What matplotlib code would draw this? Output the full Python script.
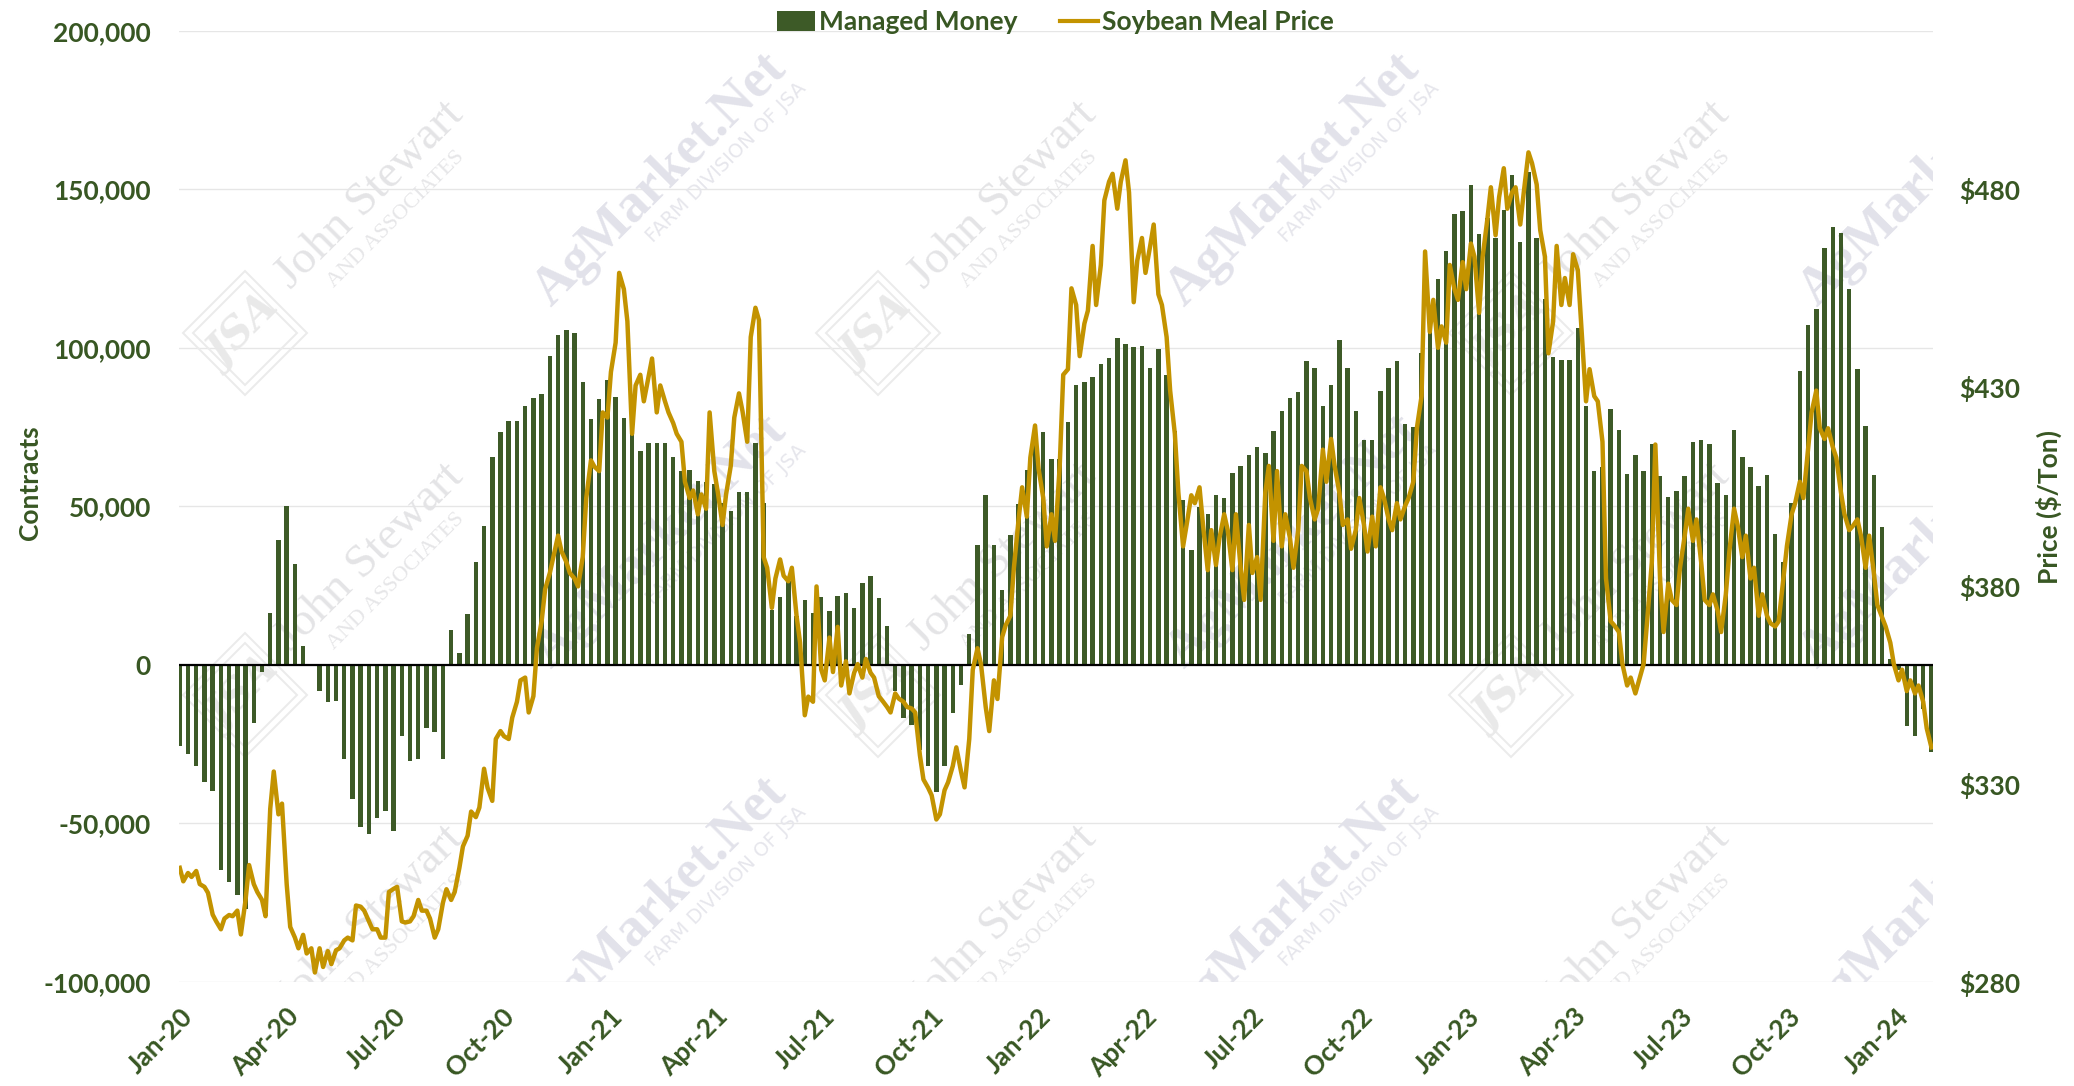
import numpy as np
import pandas as pd
import matplotlib
matplotlib.use('Agg')
import matplotlib.pyplot as plt
import matplotlib.dates as mdates
from matplotlib.patches import Patch, Polygon
from matplotlib.lines import Line2D
from matplotlib.ticker import FuncFormatter

plt.rcParams['font.family'] = ['Lato', 'DejaVu Sans']
plt.rcParams['font.weight'] = 'bold'

# managed money net position (contracts), weekly COT Tuesdays from 2020-01-07
managed_money = [
    -25500, -28000, -31800, -36800, -39700, -64700, -68400, -72600, -77000, -18200,
    -2200, 16400, 39500, 50200, 31900, 5900, -500, -8100, -11800, -11500,
    -29600, -42200, -51200, -53200, -48300, -46100, -52500, -22300, -30400, -29600,
    -19900, -21100, -29600, 11000, 3700, 16000, 32400, 43900, 65500, 73500,
    77000, 77000, 81700, 84300, 85300, 97500, 104000, 105600, 104700, 89300,
    77500, 83800, 89700, 84600, 78000, 74700, 67600, 70000, 70000, 70000,
    65700, 61000, 61500, 58000, 57800, 57000, 51000, 48500, 54400, 54400,
    70000, 51000, 17200, 21500, 26500, 15500, 20600, 16400, 21500, 16900,
    21800, 22600, 18000, 25700, 27900, 21000, 12200, -8100, -16600, -19100,
    -26700, -31800, -40200, -31800, -15200, -6400, 9600, 37800, 53500, 37800,
    23600, 40900, 50700, 61500, 70400, 73300, 64900, 64900, 76700, 88200,
    89300, 90700, 94900, 96900, 103000, 101300, 100300, 100700, 93600, 99700,
    91500, 73800, 51900, 36100, 49700, 47600, 53500, 52700, 60600, 62800,
    66200, 68600, 66900, 73800, 80100, 84300, 86100, 95800, 93600, 81700,
    88200, 102500, 93600, 80100, 71000, 71000, 86500, 93700, 95800, 76000,
    75000, 98300, 108400, 121600, 130400, 142200, 143000, 151300, 135800, 140900,
    134600, 143600, 154400, 133400, 155400, 134600, 115500, 97000, 96100, 96100,
    106200, 81700, 61100, 62500, 80600, 74100, 60300, 66200, 61100, 69600,
    59500, 53000, 54700, 59500, 70400, 70800, 69600, 57300, 53500, 74100,
    65700, 62500, 56400, 59800, 41400, 32400, 51000, 92700, 107100, 112200,
    131600, 138000, 136300, 118600, 93200, 75200, 59800, 43400, 2000, -1500,
    -19200, -22400, -14000, -27600,
]

price_tue = [
    308.8, 307.5, 308.0, 304.0, 297.0, 293.3, 296.9, 298.0, 300.7, 304.7,
    300.7, 323.7, 322.3, 304.7, 291.2, 291.9, 288.5, 288.5, 287.8, 288.0,
    290.5, 290.5, 299.0, 295.3, 293.3, 291.2, 303.5, 295.3, 295.3, 300.7,
    298.0, 291.2, 300.0, 300.7, 308.8, 316.9, 321.6, 333.8, 325.7, 343.3,
    341.3, 350.7, 356.8, 352.1, 371.0, 383.2, 392.6, 386.0, 381.8, 387.2,
    411.6, 408.9, 422.4, 441.3, 454.8, 418.3, 433.2, 432.6, 423.7, 426.5,
    421.0, 416.3, 402.1, 398.0, 399.4, 408.9, 395.3, 410.2, 428.5, 416.3,
    450.1, 387.2, 374.4, 386.6, 381.1, 372.4, 347.3, 350.7, 358.8, 366.9,
    369.6, 360.9, 358.0, 356.8, 358.0, 352.1, 349.4, 352.8, 350.7, 349.0,
    337.2, 329.0, 321.0, 328.4, 334.5, 333.1, 341.3, 364.2, 349.4, 356.1,
    367.0, 372.4, 396.7, 397.4, 420.4, 402.1, 398.0, 410.2, 434.6, 450.8,
    446.1, 465.7, 460.9, 481.9, 475.1, 487.3, 451.5, 467.7, 465.7, 453.5,
    442.7, 418.3, 389.9, 402.8, 404.8, 383.9, 385.2, 398.0, 383.9, 384.5,
    395.3, 387.2, 403.5, 391.3, 389.9, 392.0, 394.0, 408.9, 396.7, 414.3,
    417.0, 403.5, 396.7, 394.0, 395.3, 397.4, 404.8, 396.7, 400.8, 400.1,
    406.2, 427.8, 444.0, 440.0, 441.3, 454.8, 461.6, 466.3, 448.8, 472.4,
    468.4, 485.3, 479.2, 471.1, 489.3, 481.2, 463.0, 446.7, 450.8, 450.8,
    459.6, 426.5, 427.8, 416.3, 371.0, 368.3, 354.8, 352.8, 360.2, 385.9,
    381.8, 380.5, 375.1, 392.6, 391.3, 385.9, 375.1, 373.7, 377.8, 399.4,
    387.2, 381.8, 372.4, 372.4, 369.7, 381.8, 398.0, 406.2, 414.3, 429.2,
    417.0, 415.0, 403.5, 394.0, 396.7, 384.5, 383.2, 372.0, 365.6, 356.1,
    353.4, 352.8, 350.7, 339.2,
]
price_fri = [
    305.4, 306.5, 304.7, 302.5, 295.3, 296.0, 296.6, 292.0, 309.5, 302.7,
    296.6, 333.1, 325.0, 293.9, 288.5, 287.2, 282.4, 283.8, 284.5, 288.5,
    291.2, 299.3, 298.0, 293.3, 291.2, 302.7, 304.0, 295.0, 296.6, 298.0,
    296.0, 293.3, 303.4, 302.7, 314.2, 323.0, 324.0, 329.0, 341.3, 342.0,
    346.7, 356.1, 348.0, 364.2, 379.1, 387.2, 388.6, 383.2, 379.8, 402.1,
    410.0, 423.7, 433.9, 458.9, 446.7, 430.5, 426.5, 437.3, 430.5, 423.7,
    418.3, 406.2, 404.0, 403.0, 423.7, 403.5, 403.0, 422.4, 424.0, 442.7,
    447.0, 384.5, 381.8, 382.5, 384.5, 365.6, 352.0, 379.8, 356.1, 358.2,
    354.8, 352.8, 360.2, 361.5, 356.8, 351.0, 348.0, 351.5, 349.4, 348.0,
    331.1, 327.1, 322.3, 330.4, 339.2, 329.1, 358.8, 360.2, 343.3, 351.4,
    370.0, 384.5, 404.8, 412.3, 409.5, 389.9, 391.3, 433.2, 455.0, 437.9,
    449.4, 450.8, 477.2, 483.9, 481.9, 479.2, 462.0, 458.9, 471.1, 450.8,
    429.2, 403.5, 395.3, 400.8, 395.3, 394.0, 392.0, 394.0, 398.0, 376.4,
    383.2, 376.4, 410.2, 408.9, 398.0, 384.5, 410.2, 402.1, 399.4, 406.2,
    410.2, 395.3, 389.3, 402.1, 388.6, 389.9, 402.1, 394.0, 396.7, 402.1,
    419.7, 464.3, 452.1, 445.4, 460.9, 452.1, 454.8, 463.0, 463.0, 480.5,
    478.0, 475.1, 480.5, 479.2, 486.6, 469.7, 438.6, 465.7, 457.6, 463.6,
    445.4, 434.6, 426.5, 381.8, 370.0, 360.2, 356.8, 356.0, 371.0, 415.6,
    368.3, 376.4, 384.5, 399.4, 396.7, 376.4, 377.8, 368.3, 388.6, 395.3,
    392.6, 384.5, 377.8, 370.5, 371.0, 390.0, 400.8, 402.1, 423.7, 419.7,
    419.7, 412.3, 398.0, 395.0, 392.6, 392.6, 375.1, 369.7, 360.2, 358.8,
    356.1, 354.8, 344.0,
]

GREEN = '#3d5a27'
TXT = '#385723'
GOLD = '#c39300'
FONT = 19

bar_dates = pd.date_range('2020-01-07', periods=len(managed_money), freq='7D')
tue_dates = pd.date_range('2020-01-07', periods=len(price_tue), freq='7D')
fri_dates = pd.date_range('2020-01-10', periods=len(price_fri), freq='7D')
price = pd.concat([pd.Series(price_tue, index=tue_dates),
                   pd.Series(price_fri, index=fri_dates)]).sort_index()

W, H = 2074, 1086
L, R, T, B = 178.6, 1932.6, 30.7, 982.0
fig = plt.figure(figsize=(W / 100, H / 100), dpi=100, facecolor='white')
ax = fig.add_axes([L / W, 1 - B / H, (R - L) / W, (B - T) / H])

# ---- watermarks (faint, behind the bars) ----
def px(x, y):
    return (x - L) / (R - L), (B - y) / (B - T)

def inside(x, y):
    return L < x < R and T < y < B

def wm(x, y, s, **kw):
    if inside(x, y):
        ax.text(*px(x, y), s, transform=ax.transAxes, rotation=45, rotation_mode='anchor',
                ha='center', va='center', clip_on=True, zorder=0.6, **kw)

for i in range(3):
    for j in range(3):
        cx, cy = 370 + 633 * i, 195 + 362 * j
        wm(cx, cy, 'John Stewart', fontsize=34, family='Liberation Serif',
           weight='normal', color='#e4e4e6')
        wm(cx + 26, cy + 24, 'AND ASSOCIATES', fontsize=16, family='Liberation Serif',
           weight='normal', color='#e6e6e8')
        lx, ly = cx - 125, cy + 138
        if inside(lx, ly):
            for r in (62, 52):
                ax.add_patch(Polygon([px(lx, ly - r), px(lx + r, ly), px(lx, ly + r), px(lx - r, ly)],
                                     closed=True, fill=False, edgecolor='#ebebeb', lw=1.4,
                                     transform=ax.transAxes, clip_on=True, zorder=0.6))
        wm(lx, ly, 'JSA', fontsize=30, family='DejaVu Serif', style='italic',
           weight='bold', color='#e9e9e9')
        mx, my = 660 + 633 * i, 180 + 362 * j
        wm(mx, my, 'AgMarket.Net', fontsize=39, family='Liberation Serif',
           weight='bold', color='#e2e2ea')
        wm(mx + 66, my - 18, 'FARM DIVISION OF JSA', fontsize=14, family='DejaVu Sans',
           weight='normal', color='#e6e6ec')

# ---- bars ----
ax.bar(bar_dates, managed_money, width=3.8, color=GREEN, zorder=2)
ax.axhline(0, color='black', lw=1.6, zorder=3)
ax.set_ylim(-100000, 200000)
ax.set_yticks(np.arange(-100000, 200001, 50000))
ax.yaxis.set_major_formatter(FuncFormatter(lambda v, p: f'{int(v):,}'))
ax.yaxis.grid(True, color='#e6e6e6', lw=1.0)
ax.set_axisbelow(True)
for s in ax.spines.values():
    s.set_visible(False)
ax.tick_params(axis='y', length=0, pad=20, labelsize=FONT, labelcolor=TXT)
ax.set_ylabel('Contracts', fontsize=FONT, color=TXT, weight='bold')
ax.yaxis.set_label_coords(-0.078, 0.5245)

# ---- price line ----
ax2 = ax.twinx()
ax2.plot(price.index, price.values, color=GOLD, lw=3.2, zorder=4)
ax2.set_ylim(280, 520)
ax2.set_yticks(np.arange(280, 481, 50))
ax2.yaxis.set_major_formatter(FuncFormatter(lambda v, p: f'${int(v)}'))
for s in ax2.spines.values():
    s.set_visible(False)
ax2.tick_params(axis='y', length=0, pad=19, labelsize=FONT, labelcolor=TXT)
ax2.set_ylabel('Price ($/Ton)', fontsize=FONT, color=TXT, weight='bold')
ax2.yaxis.set_label_coords(1.0587, 0.499)

# ---- x axis ----
ticks = pd.date_range('2020-01-01', '2024-01-01', freq='3MS') + pd.Timedelta(days=6)
ax.set_xticks(ticks)
ax.xaxis.set_major_formatter(mdates.DateFormatter('%b-%y'))
ax.tick_params(axis='x', length=0, pad=16, labelsize=FONT, labelcolor=TXT)
for lab in ax.get_xticklabels():
    lab.set_rotation(45)
    lab.set_ha('right')
    lab.set_va('top')
    lab.set_rotation_mode('anchor')
ax.set_xlim(mdates.date2num(bar_dates[0]) - 1, mdates.date2num(bar_dates[-1]) + 1)

# ---- legend ----
handles = [Patch(facecolor=GREEN, edgecolor='none'), Line2D([], [], color=GOLD, lw=3)]
leg = ax2.legend(handles, ['Managed Money', 'Soybean Meal Price'], loc='center',
                 bbox_to_anchor=(0.5, 1.009), ncol=2, frameon=False, fontsize=FONT,
                 handlelength=1.45, handleheight=0.75, handletextpad=0.15,
                 columnspacing=1.6)
for t in leg.get_texts():
    t.set_color(TXT)

fig.savefig('out.png', dpi=100, facecolor='white')
